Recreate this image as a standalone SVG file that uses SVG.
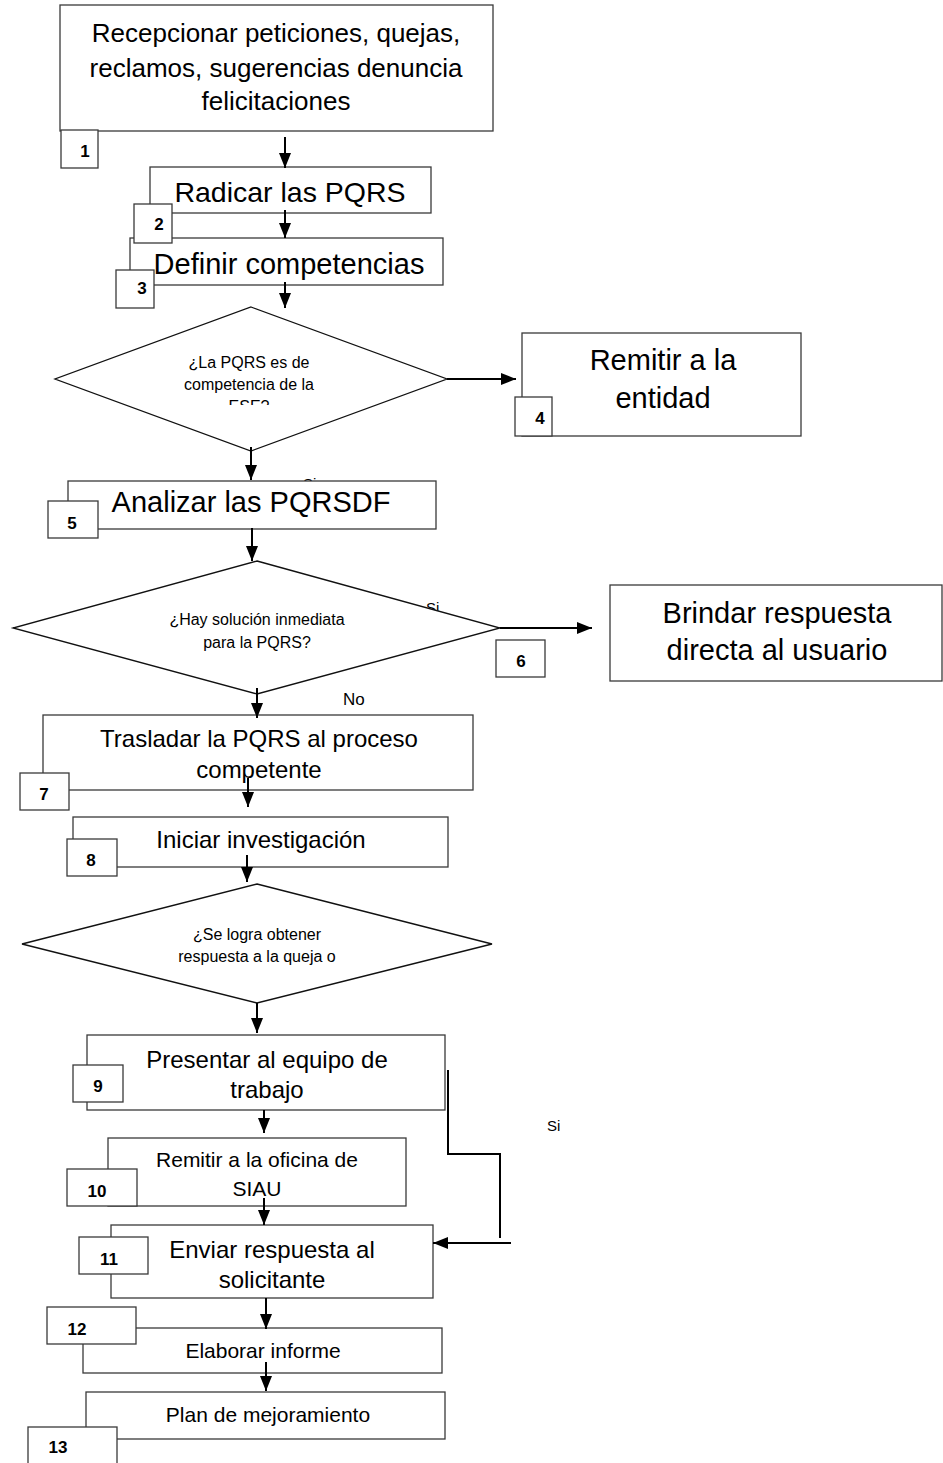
<svg xmlns="http://www.w3.org/2000/svg" width="943" height="1463" viewBox="0 0 943 1463">
<style>
.box{fill:#fff;stroke:#3a3a3a;stroke-width:1.3}
.dia{fill:#fff;stroke:#111;stroke-width:1.3}
.num{fill:#fff;stroke:#3a3a3a;stroke-width:1.3}
.t{font-family:"Liberation Sans",Arial,sans-serif;fill:#000;text-anchor:middle}
.n{font-family:"Liberation Sans",Arial,sans-serif;font-weight:bold;font-size:17px;fill:#000;text-anchor:middle}
.lbl{font-family:"Liberation Sans",Arial,sans-serif;fill:#000}
.c{fill:none;stroke:#000;stroke-width:2}
</style>
<defs>
<marker id="ah" markerUnits="userSpaceOnUse" viewBox="0 0 15 12" markerWidth="15" markerHeight="12" refX="15" refY="6" orient="auto">
<path d="M0,0 L15,6 L0,12 z" fill="#000"/>
</marker>
<clipPath id="clip3"><rect x="130" y="238" width="313" height="47"/></clipPath>
<clipPath id="clipd1"><rect x="55" y="307" width="392" height="98"/></clipPath>
</defs>
<rect width="943" height="1463" fill="#fff"/>
<g id="edge-labels">
<text class="lbl" x="303" y="489" font-size="15">Si</text>
<text class="lbl" x="426" y="613" font-size="15">Si</text>
<text class="lbl" x="343" y="705" font-size="17">No</text>
<text class="lbl" x="547" y="1131" font-size="15">Si</text>
</g>
<g id="node1">
<rect class="box" x="60" y="5" width="433" height="126"/>
<text class="t" x="276" y="42" font-size="26">Recepcionar peticiones, quejas,</text>
<text class="t" x="276" y="77" font-size="26">reclamos, sugerencias denuncia</text>
<text class="t" x="276" y="110" font-size="26">felicitaciones</text>
<rect class="num" x="61" y="130" width="37" height="38"/>
<text class="n" x="85" y="157">1</text>
</g>
<g id="node2">
<rect class="box" x="150" y="167" width="281" height="46"/>
<text class="t" x="290" y="202" font-size="28.5">Radicar las PQRS</text>
</g>
<g id="node3">
<rect class="box" x="130" y="238" width="313" height="47"/>
<text class="t" x="289" y="274" font-size="29" clip-path="url(#clip3)">Definir competencias</text>
</g>
<g id="num2">
<rect class="num" x="134" y="204" width="38" height="39"/>
<text class="n" x="159" y="230">2</text>
</g>
<g id="num3">
<rect class="num" x="116" y="270" width="38" height="38"/>
<text class="n" x="142" y="294">3</text>
</g>
<g id="decision1">
<polygon class="dia" points="251,307 447,379 251,451 55,379"/>
<g clip-path="url(#clipd1)">
<text class="t" x="249" y="368" font-size="16">¿La PQRS es de</text>
<text class="t" x="249" y="390" font-size="16">competencia de la</text>
<text class="t" x="249" y="412" font-size="16">ESE?</text>
</g>
</g>
<g id="node4">
<rect class="box" x="522" y="333" width="279" height="103"/>
<text class="t" x="663" y="370" font-size="29">Remitir a la</text>
<text class="t" x="663" y="408" font-size="29">entidad</text>
<rect class="num" x="515" y="397" width="37" height="39"/>
<text class="n" x="540" y="424">4</text>
</g>
<g id="node5">
<rect class="box" x="68" y="481" width="368" height="48"/>
<text class="t" x="251" y="512" font-size="29">Analizar las PQRSDF</text>
<rect class="num" x="48" y="501" width="50" height="37"/>
<text class="n" x="72" y="529">5</text>
</g>
<g id="decision2">
<polygon class="dia" points="257,561 500,628 257,694 13,628"/>
<text class="t" x="257" y="625" font-size="16">¿Hay solución inmediata</text>
<text class="t" x="257" y="648" font-size="16">para la PQRS?</text>
</g>
<g id="node6">
<rect class="box" x="610" y="585" width="332" height="96"/>
<text class="t" x="777" y="623" font-size="29">Brindar respuesta</text>
<text class="t" x="777" y="660" font-size="29">directa al usuario</text>
<rect class="num" x="496" y="640" width="49" height="37"/>
<text class="n" x="521" y="667">6</text>
</g>
<g id="node7">
<rect class="box" x="43" y="715" width="430" height="75"/>
<text class="t" x="259" y="747" font-size="24">Trasladar la PQRS al proceso</text>
<text class="t" x="259" y="778" font-size="24">competente</text>
<rect class="num" x="20" y="773" width="49" height="37"/>
<text class="n" x="44" y="800">7</text>
</g>
<g id="node8">
<rect class="box" x="73" y="817" width="375" height="50"/>
<text class="t" x="261" y="848" font-size="24">Iniciar investigación</text>
<rect class="num" x="67" y="839" width="50" height="37"/>
<text class="n" x="91" y="866">8</text>
</g>
<g id="decision3">
<polygon class="dia" points="257,884 492,944 257,1003 22,944"/>
<text class="t" x="257" y="940" font-size="16">¿Se logra obtener</text>
<text class="t" x="257" y="962" font-size="16">respuesta a la queja o</text>
</g>
<g id="node9">
<rect class="box" x="87" y="1035" width="358" height="75"/>
<text class="t" x="267" y="1068" font-size="24">Presentar al equipo de</text>
<text class="t" x="267" y="1098" font-size="24">trabajo</text>
<rect class="num" x="73" y="1065" width="50" height="37"/>
<text class="n" x="98" y="1092">9</text>
</g>
<g id="node10">
<rect class="box" x="108" y="1138" width="298" height="68"/>
<text class="t" x="257" y="1167" font-size="21">Remitir a la oficina de</text>
<text class="t" x="257" y="1196" font-size="21">SIAU</text>
<rect class="num" x="67" y="1169" width="70" height="37"/>
<text class="n" x="97" y="1197">10</text>
</g>
<g id="node11">
<rect class="box" x="111" y="1225" width="322" height="73"/>
<text class="t" x="272" y="1258" font-size="24">Enviar respuesta al</text>
<text class="t" x="272" y="1288" font-size="24">solicitante</text>
<rect class="num" x="79" y="1237" width="69" height="37"/>
<text class="n" x="109" y="1265">11</text>
</g>
<g id="node12">
<rect class="box" x="83" y="1328" width="359" height="45"/>
<text class="t" x="263" y="1358" font-size="21">Elaborar informe</text>
<rect class="num" x="47" y="1307" width="89" height="37"/>
<text class="n" x="77" y="1335">12</text>
</g>
<g id="node13">
<rect class="box" x="86" y="1392" width="359" height="47"/>
<text class="t" x="268" y="1422" font-size="21">Plan de mejoramiento</text>
<rect class="num" x="28" y="1427" width="89" height="45"/>
<text class="n" x="58" y="1453">13</text>
</g>
<g id="connectors">
<line class="c" x1="285" y1="137" x2="285" y2="168" marker-end="url(#ah)"/>
<line class="c" x1="285" y1="210" x2="285" y2="238" marker-end="url(#ah)"/>
<line class="c" x1="285" y1="282" x2="285" y2="308" marker-end="url(#ah)"/>
<line class="c" x1="447" y1="379" x2="516" y2="379" marker-end="url(#ah)"/>
<line class="c" x1="251" y1="447" x2="251" y2="480" marker-end="url(#ah)"/>
<line class="c" x1="252" y1="528" x2="252" y2="561" marker-end="url(#ah)"/>
<line class="c" x1="500" y1="628" x2="592" y2="628" marker-end="url(#ah)"/>
<line class="c" x1="257" y1="688" x2="257" y2="718" marker-end="url(#ah)"/>
<line class="c" x1="248" y1="778" x2="248" y2="807" marker-end="url(#ah)"/>
<line class="c" x1="247" y1="855" x2="247" y2="882" marker-end="url(#ah)"/>
<line class="c" x1="257" y1="1003" x2="257" y2="1033" marker-end="url(#ah)"/>
<line class="c" x1="264" y1="1110" x2="264" y2="1133" marker-end="url(#ah)"/>
<line class="c" x1="264" y1="1198" x2="264" y2="1225" marker-end="url(#ah)"/>
<line class="c" x1="266" y1="1298" x2="266" y2="1329" marker-end="url(#ah)"/>
<line class="c" x1="266" y1="1362" x2="266" y2="1391" marker-end="url(#ah)"/>
<polyline class="c" points="448,1070 448,1154 500,1154 500,1238"/>
<line class="c" x1="511" y1="1243" x2="433" y2="1243" marker-end="url(#ah)"/>
</g>
</svg>
